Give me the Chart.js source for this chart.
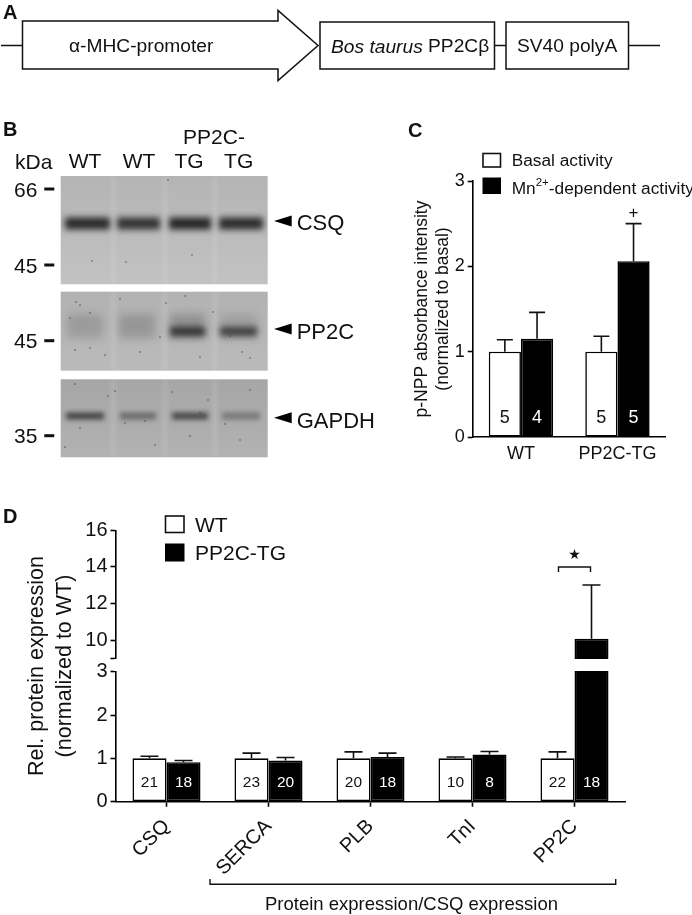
<!DOCTYPE html>
<html>
<head>
<meta charset="utf-8">
<script src="https://cdn.jsdelivr.net/npm/chart.js@4"></script>
<style>
  html, body { margin: 0; background: #fff; }
  #page { position: relative; width: 692px; height: 915px; overflow: hidden; }
  canvas, svg { position: absolute; }
  text { font-family: "Liberation Sans", Arial, sans-serif; fill: #111; dominant-baseline: central; }
</style>
</head>
<body>
<div id="page">
  <canvas id="blots" width="692" height="470" style="left:0;top:0"></canvas>
  <canvas id="chartC" width="292" height="310" style="left:400px;top:160px"></canvas>
  <canvas id="chartD" width="692" height="410" style="left:0;top:505px"></canvas>
  <svg id="notes" width="692" height="915" style="left:0;top:0"></svg>
</div>
<script>
// panel C
const activityGroups = ['WT', 'PP2C-TG'];
const basalValues = [1.0, 1.0];
const basalErrTop = [1.14, 1.18];
const basalN = [5, 5];
const mnValues = [1.15, 2.06];
const mnErrTop = [1.46, 2.5];
const mnN = [4, 5];
const activityTicks = [0, 1, 2, 3];

// panel D
const proteins = ['CSQ', 'SERCA', 'PLB', 'TnI', 'PP2C'];
const wtValues = [1.0, 1.0, 1.0, 1.0, 1.0];
const wtErrTop = [1.05, 1.12, 1.15, 1.03, 1.15];
const wtN = [21, 23, 20, 10, 22];
const tgValues = [0.91, 0.95, 1.03, 1.09, 10.09];
const tgErrTop = [0.95, 1.02, 1.12, 1.16, 13.02];
const tgN = [18, 20, 18, 8, 18];
const expressionTicks = [0, 1, 2, 3, 9, 10, 12, 14, 16];
const expressionTickLabels = ['0', '1', '2', '3', '', '10', '12', '14', '16'];

// blot band strength per lane
const csqBands = [0.92, 0.86, 0.95, 0.9];
const pp2cWeakBands = [0.17, 0.2, 0.24, 0.14];
const pp2cBands = [0, 0, 0.82, 0.75];
const gapdhBands = [0.72, 0.46, 0.7, 0.36];

const FONT = '"Liberation Sans", Arial, sans-serif';
const INK = '#111';

// y scale with a cut between 3 and 9
const CUT_LOW = 3, CUT_HIGH = 9;
const LOW_SHARE = 0.479, HIGH_SHARE = 0.527;
class BrokenScale extends Chart.LinearScale {
  getPixelForValue(v) {
    let d;
    if (v <= CUT_LOW) d = v / CUT_LOW * LOW_SHARE;
    else if (v >= CUT_HIGH) d = HIGH_SHARE + (v - CUT_HIGH) / (this.max - CUT_HIGH) * (1 - HIGH_SHARE);
    else d = LOW_SHARE + (v - CUT_LOW) / (CUT_HIGH - CUT_LOW) * (HIGH_SHARE - LOW_SHARE);
    return this.getPixelForDecimal(d);
  }
}
BrokenScale.id = 'broken';
BrokenScale.defaults = Chart.LinearScale.defaults;
Chart.register(BrokenScale);

// error bars + n labels inside the bars
const barExtras = {
  id: 'barExtras',
  afterDatasetsDraw(chart, args, opts) {
    const ctx = chart.ctx, y = chart.scales.y;
    chart.data.datasets.forEach((ds, i) => {
      chart.getDatasetMeta(i).data.forEach((bar, j) => {
        const top = y.getPixelForValue(ds.errTop[j]);
        const from = y.getPixelForValue(ds.data[j]);
        ctx.strokeStyle = INK;
        ctx.lineWidth = 1.6;
        ctx.beginPath();
        ctx.moveTo(bar.x, from);
        ctx.lineTo(bar.x, top);
        ctx.moveTo(bar.x - opts.cap / 2, top);
        ctx.lineTo(bar.x + opts.cap / 2, top);
        ctx.stroke();
        ctx.fillStyle = ds.nColor;
        ctx.font = opts.nSize + 'px ' + FONT;
        ctx.textAlign = 'center';
        ctx.textBaseline = 'middle';
        ctx.fillText(ds.n[j], bar.x, y.getPixelForValue(0) - 19);
      });
    });
  }
};

// cut in the axis and in the tall bar
const axisCut = {
  id: 'axisCut',
  afterDraw(chart) {
    const y = chart.scales.y, a = chart.chartArea;
    const t = y.getPixelForValue(CUT_HIGH) + 0.8;
    const b = y.getPixelForValue(CUT_LOW) - 0.8;
    chart.ctx.clearRect(a.left - 2, t, a.right - a.left + 2, b - t);
  }
};

// + over the TG bar in C
const plusMark = {
  id: 'plusMark',
  afterDraw(chart) {
    const bar = chart.getDatasetMeta(1).data[1];
    const ctx = chart.ctx;
    ctx.fillStyle = INK;
    ctx.font = '17px ' + FONT;
    ctx.textAlign = 'center';
    ctx.textBaseline = 'middle';
    ctx.fillText('+', bar.x, chart.scales.y.getPixelForValue(2.62));
  }
};

// bracket and star over PP2C in D
const starMark = {
  id: 'starMark',
  afterDraw(chart) {
    const a = chart.getDatasetMeta(0).data[4], b = chart.getDatasetMeta(1).data[4];
    const y = chart.scales.y.getPixelForValue(14);
    const ctx = chart.ctx;
    ctx.strokeStyle = INK;
    ctx.lineWidth = 1.4;
    ctx.beginPath();
    ctx.moveTo(a.x + 1, y + 5);
    ctx.lineTo(a.x + 1, y);
    ctx.lineTo(b.x - 1, y);
    ctx.lineTo(b.x - 1, y + 5);
    ctx.stroke();
    ctx.fillStyle = INK;
    ctx.font = '14px "DejaVu Sans"';
    ctx.textAlign = 'center';
    ctx.textBaseline = 'middle';
    ctx.fillText('★', (a.x + b.x) / 2, y - 12);
  }
};

function barSet(label, data, errTop, n, dark) {
  return {
    label, data, errTop, n,
    nColor: dark ? '#fff' : INK,
    backgroundColor: dark ? '#000' : '#fff',
    borderColor: '#000',
    borderWidth: 1.6,
    borderSkipped: false,
    categoryPercentage: 0.667,
    barPercentage: 1
  };
}

new Chart(document.getElementById('chartC'), {
  type: 'bar',
  data: {
    labels: activityGroups,
    datasets: [
      barSet('Basal activity', basalValues, basalErrTop, basalN, false),
      barSet('Mn2+-dependent activity', mnValues, mnErrTop, mnN, true)
    ]
  },
  plugins: [barExtras, plusMark],
  options: {
    responsive: false,
    animation: false,
    layout: { padding: { top: 21, right: 26.3, bottom: 0, left: 0 } },
    plugins: { legend: { display: false }, tooltip: { enabled: false }, barExtras: { cap: 16, nSize: 18 } },
    scales: {
      x: {
        afterFit: s => { s.height = 33; },
        border: { color: '#000', width: 1.6 },
        grid: { display: false, drawTicks: false },
        ticks: { color: INK, font: { family: FONT, size: 18 }, padding: 6, maxRotation: 0 }
      },
      y: {
        min: 0, max: 3,
        afterFit: s => { s.width = 72.7; },
        afterBuildTicks: s => { s.ticks = activityTicks.map(v => ({ value: v })); },
        border: { color: '#000', width: 1.6 },
        grid: { drawOnChartArea: false, tickLength: 5, tickWidth: 1.6, tickColor: '#000' },
        ticks: { color: INK, font: { family: FONT, size: 18 }, padding: 3 },
        title: {
          display: true,
          text: ['p-NPP absorbance intensity', '(normalized to basal)'],
          color: INK,
          font: { family: FONT, size: 17.5, lineHeight: 1.22 },
          padding: { top: 11, bottom: 0 }
        }
      }
    }
  }
});

new Chart(document.getElementById('chartD'), {
  type: 'bar',
  data: {
    labels: proteins,
    datasets: [
      barSet('WT', wtValues, wtErrTop, wtN, false),
      barSet('PP2C-TG', tgValues, tgErrTop, tgN, true)
    ]
  },
  plugins: [barExtras, starMark, axisCut],
  options: {
    responsive: false,
    animation: false,
    layout: { padding: { top: 25.3, right: 66.5, bottom: 0, left: 0 } },
    plugins: { legend: { display: false }, tooltip: { enabled: false }, barExtras: { cap: 18, nSize: 15.5 } },
    scales: {
      x: {
        afterFit: s => { s.height = 113.3; },
        border: { color: '#000', width: 1.6 },
        grid: { drawOnChartArea: false, offset: false, tickLength: 5, tickWidth: 1.6, tickColor: '#000' },
        ticks: { color: INK, font: { family: FONT, size: 20 }, padding: 8, minRotation: 45, maxRotation: 45 }
      },
      y: {
        type: 'broken',
        min: 0, max: 16,
        afterFit: s => { s.width = 115.5; },
        afterBuildTicks: s => { s.ticks = expressionTicks.map(v => ({ value: v })); },
        border: { color: '#000', width: 1.6 },
        grid: { drawOnChartArea: false, tickLength: 5, tickWidth: 1.6, tickColor: '#000' },
        ticks: {
          color: INK, font: { family: FONT, size: 20 }, padding: 3, autoSkip: false,
          callback: v => expressionTickLabels[expressionTicks.indexOf(v)]
        },
        title: {
          display: true,
          text: ['Rel. protein expression', '(normalized to WT)'],
          color: INK,
          font: { family: FONT, size: 21.5, lineHeight: 1.26 },
          padding: { top: 24, bottom: 0 }
        }
      }
    }
  }
});

// blots in panel B
const blotCtx = document.getElementById('blots').getContext('2d');
function drawBlot(top, height, shade, shadeLow, lanes) {
  const c = blotCtx;
  const g = c.createLinearGradient(0, top, 0, top + height);
  g.addColorStop(0, shade);
  g.addColorStop(1, shadeLow);
  c.fillStyle = g;
  c.fillRect(60.7, top, 207, height);
  c.save();
  c.beginPath();
  c.rect(60.7, top, 207, height);
  c.clip();
  lanes.forEach(l => {
    c.filter = 'blur(' + l.blur + 'px)';
    l.strength.forEach((s, i) => {
      c.fillStyle = 'rgba(28,28,28,' + s + ')';
      c.fillRect(l.x[i][0] + 2, l.y - l.h / 2, l.x[i][1] - l.x[i][0] - 4, l.h);
    });
  });
  c.filter = 'blur(2px)';
  c.fillStyle = 'rgba(255,255,255,0.14)';
  [113.5, 165, 215].forEach(x => c.fillRect(x - 2, top, 4, height));
  c.restore();
}
function drawSpecks(list) {
  blotCtx.fillStyle = 'rgba(40,40,40,0.7)';
  list.forEach(p => {
    blotCtx.beginPath();
    blotCtx.arc(p[0], p[1], 0.8, 0, Math.PI * 2);
    blotCtx.fill();
  });
}
const laneA = [[63, 112], [115, 162], [167, 213], [217, 265]];
const laneB = [[65, 105], [117, 157], [168, 207], [218, 259]];
const laneC = [[64, 106], [118, 158], [170, 210], [220, 262]];
drawBlot(176, 108.3, '#b4b4b4', '#c2c2c2', [{ x: laneA, y: 223.5, h: 12, blur: 3, strength: csqBands }]);
drawBlot(291.7, 79, '#b2b2b2', '#bababa', [
  { x: laneB, y: 326, h: 24, blur: 4, strength: pp2cWeakBands },
  { x: laneB, y: 331.5, h: 9, blur: 3, strength: pp2cBands }
]);
drawBlot(379.3, 78, '#a6a6a6', '#b2b2b2', [{ x: laneC, y: 416, h: 7, blur: 2.6, strength: gapdhBands }]);
drawSpecks([[92, 261], [168, 180], [192, 255], [126, 262]]);
drawSpecks([[76, 302], [80, 305], [90, 313], [70, 318], [166, 303], [213, 312], [105, 355], [90, 348], [160, 337],
  [230, 336], [242, 352], [250, 358], [200, 357], [140, 352], [75, 350], [185, 296], [120, 299]]);
drawSpecks([[75, 384], [115, 391], [108, 396], [208, 400], [172, 392], [125, 423], [145, 421], [200, 413], [80, 428],
  [225, 424], [250, 390], [240, 440], [65, 447], [190, 436], [155, 445]]);

// text and line work for panels A and B, legends, labels
const svg = document.getElementById('notes');
function add(tag, attrs, content) {
  const el = document.createElementNS('http://www.w3.org/2000/svg', tag);
  Object.keys(attrs).forEach(k => el.setAttribute(k, attrs[k]));
  if (content !== undefined) el.innerHTML = content;
  svg.appendChild(el);
  return el;
}
function label(x, y, str, size, extra) {
  return add('text', Object.assign({ x, y, 'font-size': size }, extra || {}), str);
}
function outline(points) {
  add('polygon', { points, fill: '#fff', stroke: INK, 'stroke-width': 1.5 });
}
function line(points, w) {
  add('polyline', { points, fill: 'none', stroke: INK, 'stroke-width': w || 1.5 });
}

[['A', 3, 12], ['B', 3, 129], ['C', 408, 130], ['D', 3, 516]].forEach(p => {
  label(p[1], p[2], p[0], 20, { 'font-weight': 'bold' });
});

// panel A
line('1,45.5 22,45.5');
line('494,45.5 506,45.5');
line('628,45.5 660,45.5');
outline('22.5,21 278,21 278,10.5 318,45.5 278,80.5 278,69 22.5,69');
outline('320,22 494.5,22 494.5,69 320,69');
outline('506,22 628.5,22 628.5,69 506,69');
label(69, 45.5, 'α-MHC-promoter', 19.2);
label(331, 45.5, '<tspan font-style="italic">Bos taurus</tspan> PP2Cβ', 19.2);
label(517, 45.5, 'SV40 polyA', 19.2);

// panel B
label(15, 161.5, 'kDa', 21);
[['WT', 85], ['WT', 139], ['TG', 189], ['TG', 238.7]].forEach(p => {
  label(p[1], 160, p[0], 21, { 'text-anchor': 'middle' });
});
label(214, 136, 'PP2C-', 21, { 'text-anchor': 'middle' });
[['66', 189], ['45', 265], ['45', 340.7], ['35', 435.7]].forEach(p => {
  label(14, p[1], p[0], 21);
  add('rect', { x: 44.3, y: p[1] - 1.5, width: 10, height: 3, fill: INK });
});
[['CSQ', 222.5, 221], ['PP2C', 331.5, 329], ['GAPDH', 420, 417.7]].forEach(p => {
  add('polygon', { points: '274,' + p[2] + ' 291.7,' + (p[2] - 5.5) + ' 291.7,' + (p[2] + 5.5), fill: '#000' });
  label(296.7, p[1], p[0], 22);
});

// legends
add('rect', { x: 483, y: 153.5, width: 17.5, height: 13.5, fill: '#fff', stroke: INK, 'stroke-width': 1.6 });
add('rect', { x: 482.5, y: 177.5, width: 18.5, height: 16.5, fill: '#000' });
label(511.7, 160, 'Basal activity', 17.3);
label(511.7, 187.5, 'Mn<tspan dy="-6" font-size="11.5">2+</tspan><tspan dy="6">-dependent activity</tspan>', 17.3);
add('rect', { x: 165.5, y: 516, width: 18.5, height: 16.5, fill: '#fff', stroke: INK, 'stroke-width': 1.6 });
add('rect', { x: 165, y: 543.5, width: 19.5, height: 18, fill: '#000' });
label(195, 524.3, 'WT', 21);
label(195, 552.7, 'PP2C-TG', 21);

// group bracket under panel D
line('210,879 210,884.3 615.7,884.3 615.7,879', 1.4);
label(411.5, 903, 'Protein expression/CSQ expression', 18.5, { 'text-anchor': 'middle' });
</script>
</body>
</html>
